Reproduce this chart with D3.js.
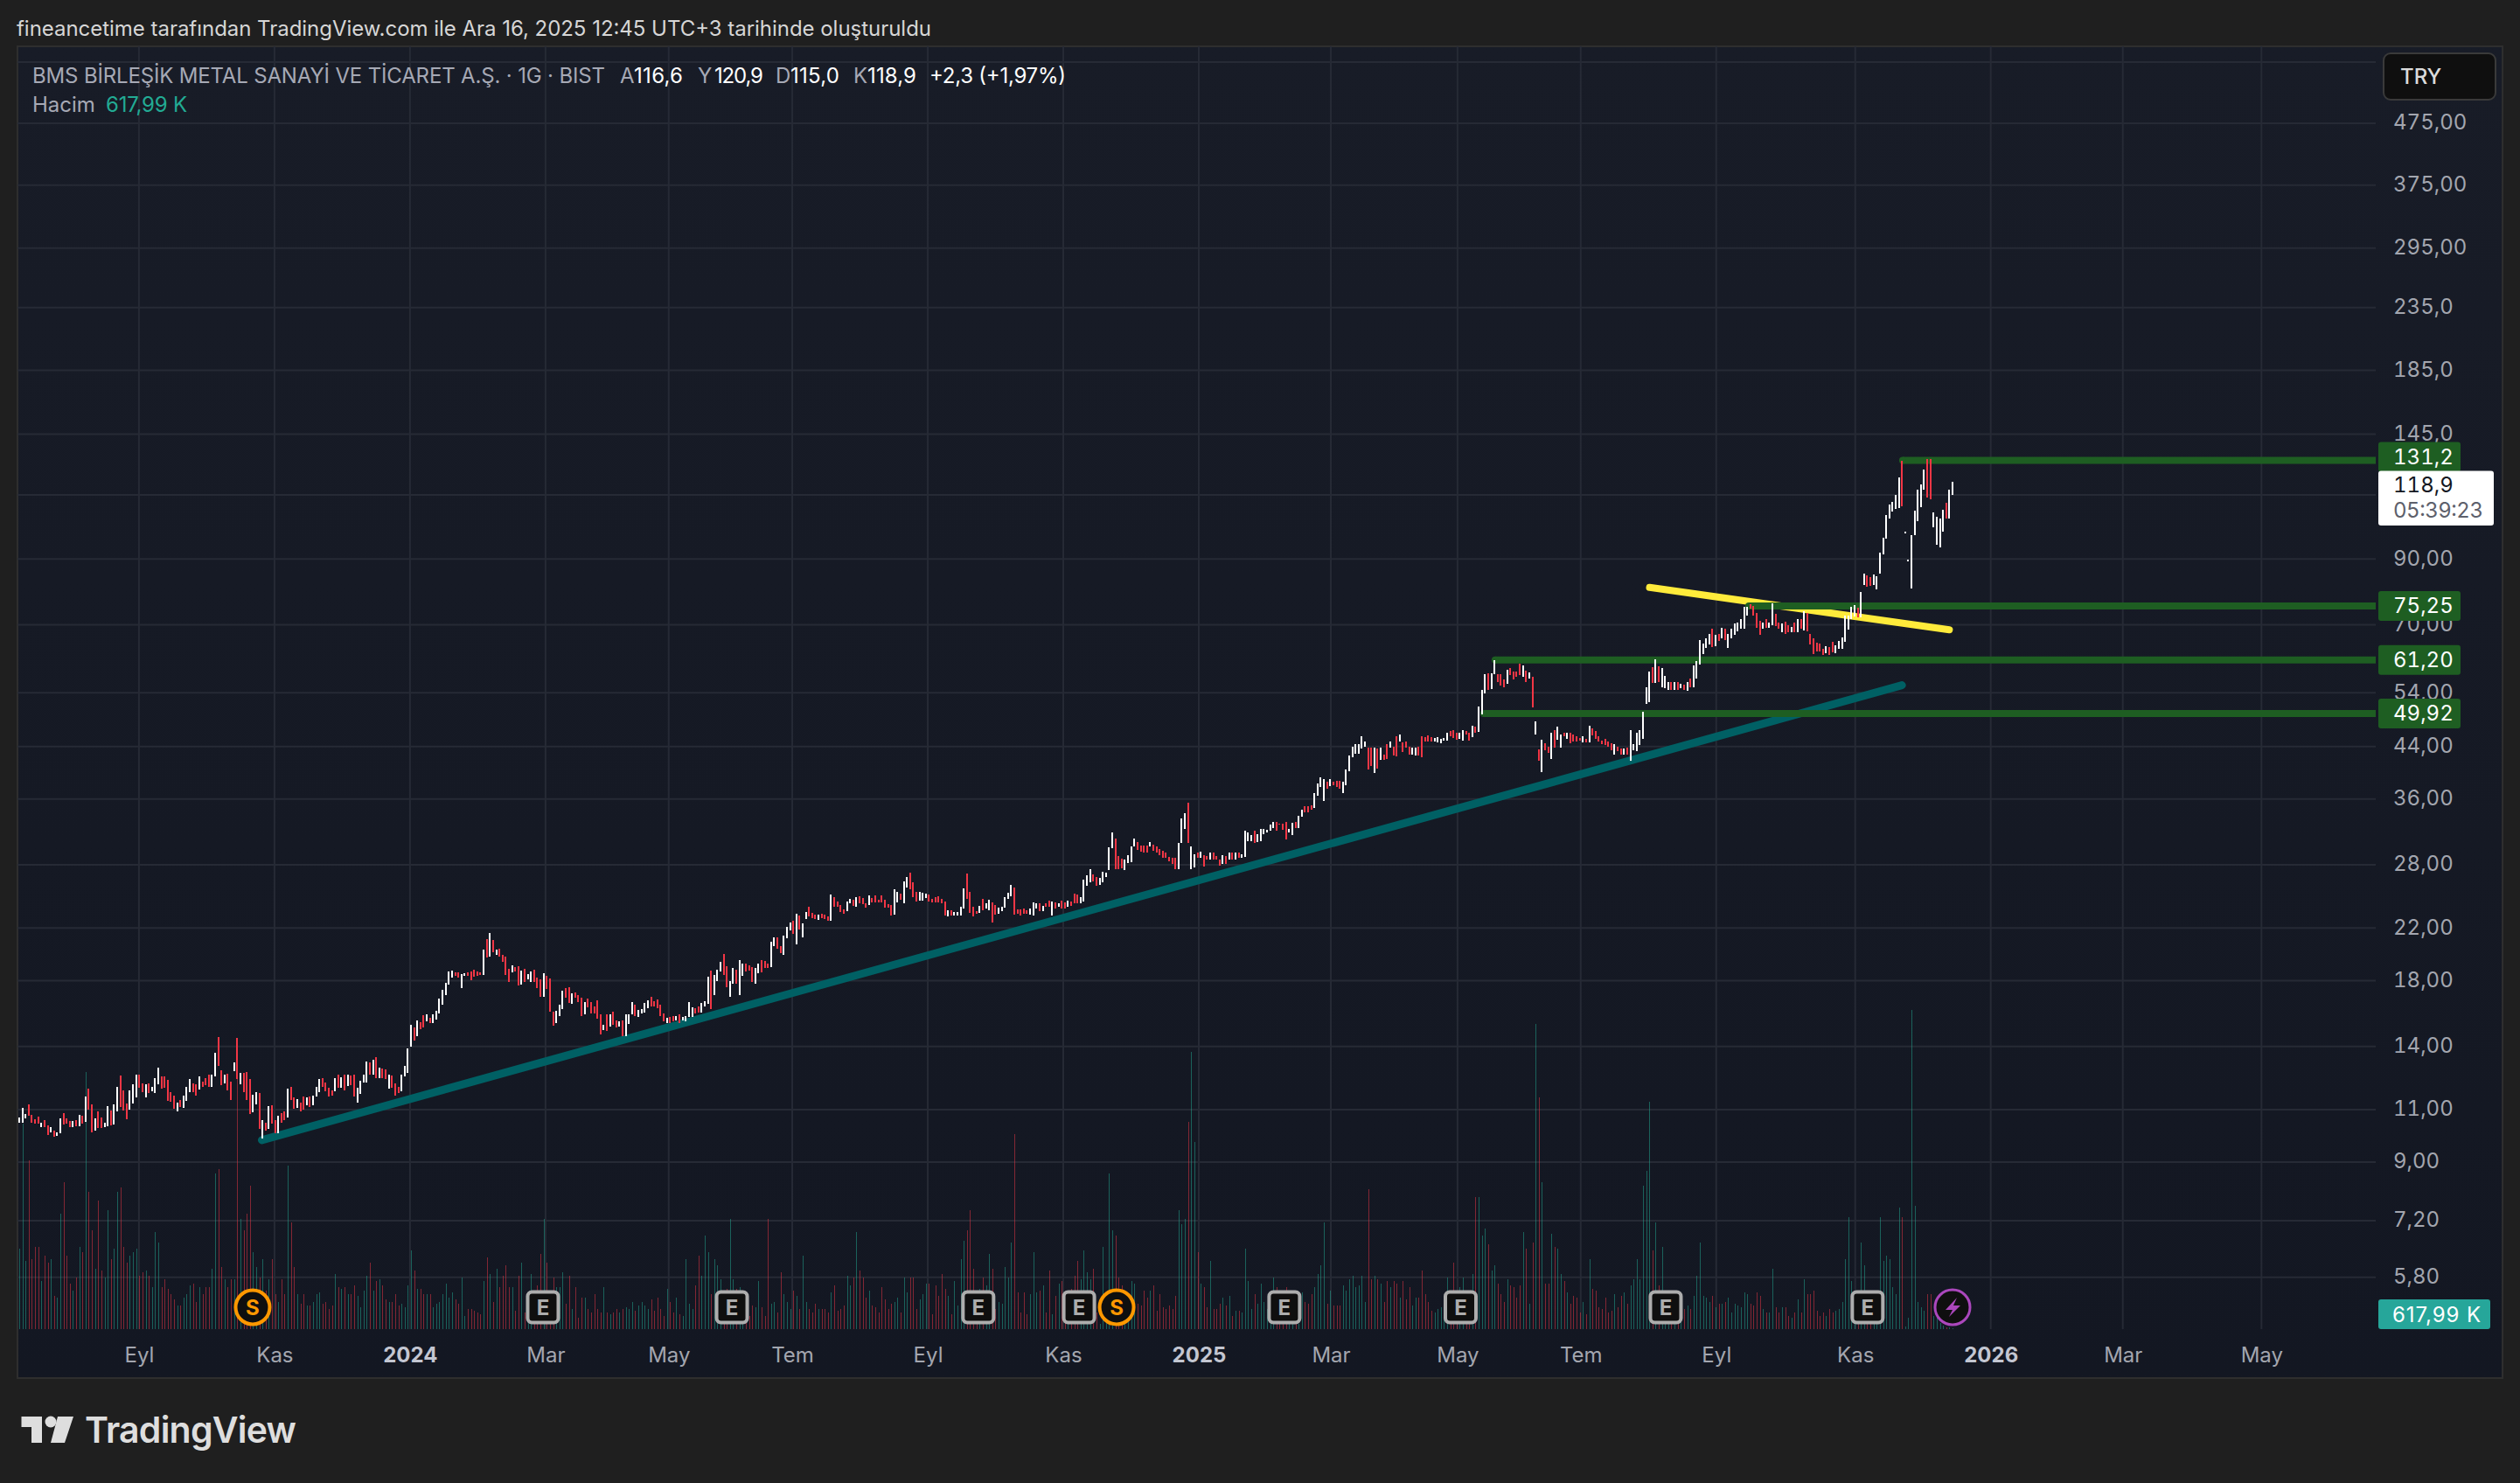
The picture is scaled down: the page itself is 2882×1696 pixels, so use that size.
<!DOCTYPE html>
<html>
<head>
<meta charset="utf-8">
<script src="https://cdn.jsdelivr.net/npm/d3@7"></script>
<style>
body { margin: 0; background: #1f1f1f; }
svg { display: block; font-family: Inter, "Noto Sans", sans-serif; }
.tnum { font-feature-settings: "tnum"; font-variant-numeric: tabular-nums; }
</style>
</head>
<body>
<div id="chart"></div>
<script>
// daily bars, oldest first (TRY)
var barHighs = [
10.69,11.07,10.80,11.21,10.77,10.60,10.71,10.47,10.57,10.37,
10.28,10.14,10.07,10.63,10.85,10.65,10.53,10.53,10.57,10.77,
10.75,11.55,11.91,11.21,10.65,10.93,10.69,10.47,11.13,10.96,
11.21,11.99,12.52,11.85,11.26,11.85,12.12,12.56,12.59,12.15,
12.12,12.15,12.01,12.39,12.90,12.50,12.49,12.31,11.75,11.59,11.30,
11.42,11.62,11.99,12.35,12.17,12.12,12.50,12.25,12.42,12.59,
12.59,13.65,14.50,12.77,12.56,12.63,12.25,13.16,14.46,12.67,
12.67,12.70,12.35,11.64,11.77,11.71,10.58,10.45,11.13,11.17,
10.57,10.73,10.85,10.93,11.91,12.01,11.51,11.46,11.30,11.55,11.54,
11.55,11.59,11.99,12.36,12.39,12.20,11.95,11.85,12.42,12.59,
12.45,12.59,12.56,12.53,12.59,11.95,12.29,12.59,13.20,13.16,
13.30,13.42,12.90,12.87,12.81,12.59,12.53,12.17,11.99,12.59,
12.98,13.91,
15.21,15.03,15.47,15.38,15.78,15.80,15.64,15.80,16.05,16.82,
17.39,17.85,18.65,18.71,18.58,18.58,18.46,18.50,18.58,18.63,
18.77,18.63,18.58,20.27,21.10,21.58,21.03,20.27,20.34,19.87,
19.74,18.84,19.09,18.96,19.02,18.71,18.84,18.46,18.65,18.77,
18.21,18.09,18.52,18.34,18.15,15.99,16.05,16.42,17.33,17.50,
17.56,17.16,17.22,17.03,16.87,16.60,16.82,16.60,16.32,16.70,
15.83,15.18,15.83,15.80,15.99,15.47,15.42,15.47,15.80,15.80,
16.60,16.44,16.10,16.15,16.53,16.70,16.93,16.65,16.76,16.42,
15.88,15.64,15.68,15.73,15.73,15.80,15.68,15.73,16.60,16.26,
16.21,16.32,16.53,16.65,18.28,18.71,18.40,18.77,19.35,19.94,
19.02,17.97,18.90,18.77,19.48,19.22,19.22,19.09,18.96,18.90,
19.22,19.48,19.41,19.22,20.89,21.24,21.24,20.54,21.38,22.11,
22.48,22.63,23.25,23.10,22.41,
23.41,23.83,23.31,23.15,23.15,23.23,23.15,23.03,24.97,24.74,
24.34,23.99,23.62,24.31,24.55,24.47,24.74,24.83,24.69,24.20,
24.91,24.69,24.91,24.47,24.91,24.47,24.10,24.04,25.47,25.25,
25.08,26.28,26.69,27.2,26.22,25.25,25.25,25.19,25.05,24.97,
24.63,24.74,24.83,24.55,24.34,23.56,23.56,23.36,23.36,23.88,
25.58,27.05,25.25,23.88,23.49,23.93,24.63,24.15,24.47,24.23,
24.02,23.75,23.88,24.74,25.14,25.96,25.72,23.62,23.62,23.67,
23.52,23.67,24.26,24.15,24.20,23.93,24.15,24.42,24.34,24.26,
24.20,24.42,24.23,24.42,24.31,25.08,25.02,24.74,26.46,
26.94,27.55,27.03,26.73,26.64,27.3,27.2,29.9,31.7,31.0,
29.0,28.7,28.6,29.1,30.0,31.0,30.5,30.18,30.18,30.18,
30.5,30.28,30.0,29.78,29.58,29.3,28.9,28.8,28.74,30.4,
33.38,34.16,35.55,30.0,29.2,29.38,29.48,29.1,29.0,29.3,
29.38,29.0,28.6,29.1,29.0,29.3,29.3,29.3,29.3,29.2,
31.85,31.65,31.33,31.85,31.43,32.16,32.16,32.05,32.7,33.04,
33.04,32.8,32.8,33.04,32.16,32.93,33.04,33.82,34.6,35.08,
35.08,35.2,36.77,38.15,39.05,38.8,38.4,38.8,38.4,38.54,
38.54,38.4,40.25,42.46,43.9,44.35,44.35,45.7,44.8,43.75,
43.75,43.75,43.6,43.75,42.6,44.35,44.8,43.9,45.7,46.04,
44.65,44.8,43.9,43.75,43.75,43.9,45.7,45.55,45.85,45.55,
45.4,45.55,45.25,
45.5,46.4,46.6,46.8,46.3,46.4,46.8,46.6,46.4,47.6,
47.4,51.2,54.6,58.0,58.2,58.2,61.2,58.0,58.0,56.8,
59.0,59.3,58.6,58.6,60.3,59.9,58.7,58.4,57.4,48.5,
43.5,45.1,44.5,44.0,46.4,46.8,47.4,46.0,46.4,46.3,
46.3,46.0,45.7,45.4,45.7,45.3,47.6,47.1,46.6,45.7,
45.0,45.3,44.8,44.5,44.4,43.9,43.6,43.6,43.8,46.9,
44.4,46.3,46.9,50.2,55.1,58.6,59.6,61.3,59.8,59.3,
57.6,56.3,56.3,56.3,56.3,55.9,55.8,56.2,57.0,59.9,
61.0,66.1,65.2,66.5,67.7,69.0,67.3,67.7,69.2,69.0,
67.5,69.0,70.4,70.6,71.5,75.0,75.0,75.8,75.3,73.3,
71.1,70.6,71.5,70.6,76.0,73.0,70.6,70.4,70.9,70.0,
69.4,70.6,71.5,71.5,73.7,73.3,67.7,66.5,65.3,65.2,
63.9,64.5,64.3,65.6,64.8,65.9,66.7,72.5,72.5,75.0,
75.5,74.7,79.4,85.1,84.6,84.0,84.9,84.3,92.3,97.6,
106.4,110.8,112.0,114.9,122.9,131.0,100.0,89.8,98.6,108.3,
117.4,119.5,126.7,131.8,131.8,107.5,105.8,105.0,108.6,111.5,
117.3,120.9];

var barLows = [
10.47,10.47,10.63,10.73,10.47,10.43,10.41,10.28,10.28,9.99,
10.07,9.92,9.94,10.05,10.39,10.41,10.28,10.30,10.32,10.32,
10.41,10.51,11.01,10.10,10.14,10.25,10.25,10.28,10.32,10.37,
10.39,10.93,11.11,10.96,10.60,10.99,11.26,11.51,11.95,11.75,
11.51,11.72,11.81,11.70,12.12,11.91,11.95,11.39,11.34,11.04,10.93,
11.11,11.07,11.36,11.77,11.77,11.59,11.88,11.99,12.08,12.01,
12.00,12.49,12.98,12.08,12.15,11.85,11.41,12.73,12.35,12.10,
11.75,11.41,10.81,10.89,11.23,10.22,9.85,10.14,10.23,10.41,
10.05,10.05,10.45,10.57,10.69,11.42,11.05,11.09,10.93,10.99,11.17,
11.11,11.17,11.55,11.75,12.01,11.81,11.55,11.59,11.81,11.95,
11.96,11.84,12.04,12.08,11.55,11.30,11.68,12.21,12.21,12.56,
12.59,12.42,12.42,12.42,12.35,11.91,11.95,11.62,11.72,11.81,
12.49,12.67,
13.98,14.33,14.54,14.93,15.03,15.42,15.31,15.31,15.49,15.88,
16.44,17.06,17.70,18.21,18.34,18.21,17.50,18.30,18.34,18.03,
18.28,18.34,18.40,18.40,19.67,19.74,20.04,19.87,19.74,19.35,
18.40,17.91,18.58,18.65,17.68,17.74,17.91,18.09,17.91,17.91,
17.50,16.93,16.93,17.44,15.99,15.16,15.31,15.73,16.15,16.87,
16.53,16.50,16.87,16.60,15.73,15.83,16.26,15.88,15.88,15.57,
14.66,14.90,14.86,15.11,15.18,15.03,15.11,14.57,14.57,15.26,
15.80,15.73,15.68,15.88,15.95,16.21,16.32,16.32,16.21,15.73,
15.42,15.31,15.31,15.42,15.47,15.31,15.47,15.42,15.68,15.68,
15.88,15.95,15.95,16.32,16.50,16.15,17.03,17.97,18.65,18.40,
17.56,16.93,17.80,17.80,17.03,18.34,18.65,18.71,17.91,17.80,
18.52,18.58,18.90,18.90,18.96,20.54,20.34,20.00,19.87,21.17,
21.82,21.53,20.68,21.89,21.24,
22.80,22.97,22.85,22.80,22.70,22.88,22.80,22.65,22.65,23.88,
23.83,23.36,23.23,23.49,24.20,23.93,23.88,24.20,24.10,23.80,
24.02,24.26,24.26,24.29,24.23,23.80,23.75,23.10,23.15,24.29,
24.47,24.20,25.67,25.47,24.74,24.36,24.42,24.42,24.69,24.34,
24.26,24.26,24.26,24.15,23.10,22.97,23.10,23.10,23.10,23.10,
23.67,24.61,23.31,22.97,23.23,23.33,23.56,23.67,23.56,22.47,
23.15,23.23,23.49,23.80,24.55,24.83,23.15,23.20,23.08,23.20,
23.20,23.15,23.08,23.67,23.46,23.49,23.88,23.88,23.08,23.67,
23.83,23.67,23.67,23.88,23.93,24.15,24.20,24.20,24.34,
25.87,26.2,26.26,25.87,25.96,26.2,26.7,27.46,29.88,27.55,
27.5,27.66,27.46,28.16,28.25,30.0,29.68,29.48,29.38,29.38,
30.0,29.58,29.38,29.1,28.8,28.74,28.42,28.1,27.5,27.5,
30.4,32.16,30.48,27.5,27.7,28.74,28.8,27.85,28.6,28.54,
28.54,28.6,27.95,28.1,28.14,28.6,28.6,28.6,28.74,28.74,
28.9,30.7,30.7,30.4,30.55,30.7,31.43,31.64,31.95,32.27,
31.95,32.63,32.05,30.9,31.64,31.33,32.27,32.27,33.6,34.23,
34.23,34.6,34.84,36.52,37.64,35.68,37.5,37.77,37.9,37.64,
37.5,36.77,37.9,40.0,42.18,42.8,42.8,43.6,43.9,40.25,
40.9,39.7,40.5,41.8,41.8,42.0,43.75,42.46,42.3,44.8,
43.03,43.75,42.6,42.6,42.46,42.46,42.2,44.8,44.8,44.8,
44.8,44.65,44.5,
45.0,45.0,45.7,45.5,45.2,45.3,45.0,46.0,45.0,45.6,
46.3,46.5,49.7,53.8,54.6,54.7,57.9,56.2,55.6,55.1,
55.9,57.8,56.9,57.5,57.8,57.5,56.2,57.0,51.1,46.0,
41.6,39.9,43.3,42.9,42.0,43.8,45.1,43.8,45.7,45.3,
44.5,44.8,44.8,45.0,44.7,44.7,44.7,45.9,45.3,44.8,
44.4,44.2,43.9,43.3,42.6,43.2,42.6,42.6,42.6,41.7,
43.3,43.2,44.2,45.3,51.7,52.1,56.0,56.0,56.2,55.1,
54.9,54.6,54.6,54.6,54.6,54.9,54.6,54.4,55.1,55.1,
57.0,60.1,62.6,64.1,64.9,64.3,64.5,65.9,66.5,66.1,
64.1,66.5,67.4,68.3,69.0,69.0,72.5,74.5,72.5,69.2,
67.4,69.0,69.2,69.2,70.0,69.6,69.0,68.1,67.6,68.1,
68.1,68.1,68.1,69.0,68.6,68.3,64.9,62.6,63.3,63.3,
62.4,62.8,62.4,63.0,62.8,63.9,63.9,65.7,68.8,71.6,
72.4,72.1,72.1,81.6,81.0,81.3,81.6,80.2,85.0,91.7,
97.3,105.0,108.0,109.1,109.4,110.0,99.3,89.2,80.5,98.6,
104.0,109.7,117.3,113.8,113.0,101.6,95.0,94.0,100.0,105.0,
105.0,115.0];

// w = close above open, r = close below open
var barDirs = [
"wwwrrrrwrr","wrwwrrrwrw","rwrrwrrwwr","wwrrrwwwrr","wrwwwrrrrrw",
"rwwwrrwrrr","wwrrwrrwrw","rrrwwrwrwr","rwrrwrrwrrw","rwwwrrrrwr",
"wrwrrwwwwr","wrwrrwrrrw","ww",
"wrwrrwrwww","wwwwrrwwrr","rrrwrwrwrr","rrwrrwrwwr","rrwrrrwwwr",
"rwrrrwrrrr","rwrwrrwrww","wrwwwwrrrr","rwrrwrwwww","rrwwwrwwwr",
"rwwrwwrrrw","wrrrwwrrww","wrwrw",
"wrrrwrrrwr","rrrwwrwrrr","wrrrrrrrww","rwwrrrwwwr","rrrrrwrwww",
"wrrrrwrwwr","rwwwwwrrrr","rwwwrwrrwr","wrrwrrrww",
"wwrrwwwwwr","rrwwwwrrrr","wrrrrrrrrw","wwrwwrwrrw","rrrwrwrwrw",
"wwwrwwwwww","rrrrwwrwwr","rrwwwwrwrr","rwwwwwwwwr","rwrwrrwrrw",
"rrrwwrrrrr","www",
"wwrrrwwrrw","rwwwrwwrrr","wrrrrwrwrw","rwrrwrwwrw","rrrrwrwrrr",
"rrrrwrrwrw","wwwwwwrwrw","wwrwrwrwrw","wwwwwrwrwr","wwwwwwwrrr",
"rwrwwrrwrr","wrwrwrrrrr","rwrrwwwwww","wrwwrrwwww","wwwwwrwwww",
"wwwrrwwwwr","ww"
].join("");

// volume in millions
var barVolumes = [
44,112,37,92,38,45,45,26,40,36,
38,18,17,63,80,40,25,21,28,45,
42,140,75,54,33,70,32,28,65,38,
44,75,77,45,36,40,42,44,29,31,
32,29,23,53,47,23,27,22,19,16,
13,13,17,19,24,25,15,23,19,23,
23,33,85,87,34,27,23,27,27,136,
60,54,63,78,42,34,28,38,21,27,
38,19,15,27,19,89,58,34,19,14,
19,13,13,15,19,20,14,15,11,13,
30,23,22,23,19,19,24,18,12,21,
29,36,21,26,27,24,16,15,15,19,
13,14,12,24,43,32,22,22,19,19,
19,12,14,15,19,25,17,20,16,14,
28,7,11,11,10,9,8,26,39,30,
15,33,23,29,35,23,23,10,29,36,
9,20,30,20,24,41,60,36,17,28,
23,23,31,14,29,11,23,6,17,17,
11,9,19,11,9,23,9,8,9,11,
9,11,12,11,15,10,13,15,13,11,
16,10,17,11,7,22,15,9,17,8,7,
38,14,11,24,40,29,51,42,19,38,
35,27,19,22,60,27,22,23,9,8,
7,13,12,26,12,7,60,14,15,9,
31,19,15,11,21,18,11,40,15,11,
9,14,11,11,11,9,20,24,10,11,
13,29,24,28,53,32,28,17,21,13,
12,9,23,16,11,14,15,17,9,28,
20,28,28,11,16,19,25,25,8,24,
18,30,22,18,8,26,13,38,48,54,
65,33,12,22,28,24,41,33,11,15,
14,34,28,47,106,20,9,20,8,19,
42,20,21,24,9,32,8,18,25,26,
7,19,22,29,37,27,43,31,27,33,
9,3,45,9,85,54,51,28,24,7,
18,26,25,14,13,21,17,21,24,10,
19,12,11,13,11,18,65,57,60,113,
151,102,42,25,23,12,37,11,11,14,
17,13,18,7,10,10,9,44,26,11,
19,14,25,15,11,14,28,23,7,9,
23,11,9,9,3,20,15,14,19,23,30,
35,58,14,21,13,13,13,24,21,27,
29,23,24,29,15,76,27,29,27,25,
15,26,23,26,25,17,26,16,23,13,
17,17,32,19,15,10,9,11,12,11,
28,17,36,9,23,28,7,11,30,72,
72,51,55,46,32,35,25,19,15,27,
24,23,17,24,53,44,14,47,166,126,
80,25,25,52,45,44,30,26,20,14,
18,17,9,15,8,38,22,21,12,11,
17,9,10,19,12,18,20,14,24,27,
38,27,78,86,124,43,58,24,45,17,
17,17,17,17,17,11,13,11,18,29,
47,18,17,15,18,12,14,14,15,17,
9,14,13,12,20,19,14,13,20,18,
11,9,9,33,12,9,12,12,7,6,
9,16,9,27,19,19,21,10,7,9,
7,11,9,10,11,15,38,61,26,13,
12,47,35,12,11,11,11,61,37,40,
38,23,19,66,61,1.4,6,174,67,15,
12,10,19,19,7,6,3.5,2,1,1,0.618];

var priceGrid = [600,475,375,295,235,185,145,115,90,70,54,44,36,28,22,18,14,11,9,7.2,5.8];
var priceTicks = [475,375,295,235,185,145,90,70,54,44,36,28,22,18,14,11,9,7.2,5.8];
var priceLabels = ["475,00","375,00","295,00","235,0","185,0","145,0","90,00","70,00","54,00","44,00","36,00","28,00","22,00","18,00","14,00","11,00","9,00","7,20","5,80"];

var monthIdx = [37.9,80.8,123.7,166.6,205.6,244.7,287.6,330.5,373.4,415.2,455.3,494.3,537.2,581.2,624.1,665.9,709.8];
var monthLabels = ["Eyl","Kas","2024","Mar","May","Tem","Eyl","Kas","2025","Mar","May","Tem","Eyl","Kas","2026","Mar","May"];

var levelPrices = [131.2,75.25,61.20,49.92];
var levelLabels = ["131,2","75,25","61,20","49,92"];
var levelStarts = [596.2,547.5,467.2,463.6];
var levelBadgeShift = [-4,0,0,0];

var tealLine = [[76.8,9.79],[596,55.6]];
var yellowLine = [[516.1,80.75],[611,68.7]];

var splitIdx = [73.9,347.4];
var earningsIdx = [165.8,225.6,303.6,335.5,400.5,456.3,521.2,585.1];
var boltIdx = [612];

var WIDTH = 2882, HEIGHT = 1696;
var PANE_LEFT = 20, PANE_TOP = 53, PANE_RIGHT = 2862, PANE_BOTTOM = 1576;
var PLOT_RIGHT = 2717, VOL_BOTTOM = 1520;
var ICON_Y = 1495;
var COL_UP = "#ffffff", COL_DOWN = "#f23645", COL_VOL_UP = "#22ab94", COL_LEVEL = "#1e5e22";

var x = d3.scaleLinear().domain([0,612]).range([22,2233]);
var y = d3.scaleLog().domain([5.8,475]).range([1460.7,141]);
var v = d3.scaleLinear().domain([0,100]).range([VOL_BOTTOM,VOL_BOTTOM-210]);
var planEnd = x.invert(PLOT_RIGHT);

var svg = d3.select("#chart").append("svg").attr("width",WIDTH).attr("height",HEIGHT);

var grad = svg.append("defs").append("linearGradient").attr("id","paneBg").attr("x1",0).attr("x2",0).attr("y1",0).attr("y2",1);
grad.append("stop").attr("offset",0).attr("stop-color","#181c27");
grad.append("stop").attr("offset",1).attr("stop-color","#131722");

svg.append("rect").attr("width",WIDTH).attr("height",HEIGHT).attr("fill","#1f1f1f");
svg.append("rect").attr("x",PANE_LEFT).attr("y",PANE_TOP)
    .attr("width",PANE_RIGHT-PANE_LEFT).attr("height",PANE_BOTTOM-PANE_TOP)
    .attr("fill","url(#paneBg)").attr("stroke","#2e2e2e").attr("stroke-width",2);

// grid
svg.append("g").selectAll("line").data(priceGrid).join("line")
    .attr("x1",PANE_LEFT).attr("x2",PLOT_RIGHT)
    .attr("y1",function(d){return y(d);}).attr("y2",function(d){return y(d);})
    .attr("stroke","#262a35").attr("stroke-width",2);
svg.append("g").selectAll("line").data(monthIdx).join("line")
    .attr("x1",function(d){return x(d);}).attr("x2",function(d){return x(d);})
    .attr("y1",PANE_TOP).attr("y2",VOL_BOTTOM)
    .attr("stroke","#262a35").attr("stroke-width",2);

// volume
svg.append("g").attr("shape-rendering","crispEdges").selectAll("rect").data(barVolumes).join("rect")
    .attr("x",function(d,i){return Math.round(x(i));})
    .attr("width",1)
    .attr("y",function(d){return v(d);})
    .attr("height",function(d){return VOL_BOTTOM-v(d);})
    .attr("fill",function(d,i){return barDirs[i]=="r" ? COL_DOWN : COL_VOL_UP;})
    .attr("opacity",0.5);

// drawn lines
var lineGen = d3.line().x(function(d){return x(d[0]);}).y(function(d){return y(d[1]);});
svg.append("path").attr("d",lineGen(tealLine)).attr("stroke","#006064").attr("stroke-width",9)
    .attr("stroke-linecap","round").attr("fill","none");
svg.append("path").attr("d",lineGen(yellowLine)).attr("stroke","#ffeb3b").attr("stroke-width",8)
    .attr("stroke-linecap","round").attr("fill","none");
levelPrices.forEach(function(p,i){
    svg.append("path").attr("d",lineGen([[levelStarts[i],p],[planEnd,p]]))
        .attr("stroke",COL_LEVEL).attr("stroke-width",8).attr("fill","none");
    svg.append("circle").attr("cx",x(levelStarts[i])).attr("cy",y(p)).attr("r",4).attr("fill",COL_LEVEL);
});

// candles
svg.append("g").attr("shape-rendering","crispEdges").selectAll("rect").data(barHighs).join("rect")
    .attr("x",function(d,i){return Math.round(x(i))-1;})
    .attr("width",2)
    .attr("y",function(d){return y(d);})
    .attr("height",function(d,i){return y(barLows[i])-y(d);})
    .attr("fill",function(d,i){return barDirs[i]=="r" ? COL_DOWN : COL_UP;});

// axes
var yAxis = d3.axisRight(y).tickValues(priceTicks).tickSize(0).tickPadding(0)
    .tickFormat(function(d){return priceLabels[priceTicks.indexOf(d)];});
var yg = svg.append("g").attr("transform","translate(2737,-1)").attr("class","tnum").call(yAxis);
yg.select(".domain").remove();
yg.selectAll("text").attr("fill","#a3a6af").attr("font-size",24).attr("font-family","Inter");

var xAxis = d3.axisBottom(x).tickValues(monthIdx).tickSize(0).tickPadding(0)
    .tickFormat(function(d,i){return monthLabels[i];});
var xg = svg.append("g").attr("transform","translate(0,1541)").call(xAxis);
xg.select(".domain").remove();
xg.selectAll("text").attr("font-size",24).attr("font-family","Inter")
    .attr("font-weight",function(d,i){return /^\d/.test(monthLabels[i]) ? 700 : 400;})
    .attr("fill",function(d,i){return /^\d/.test(monthLabels[i]) ? "#c3c6d1" : "#a3a6af";});

// level badges
levelPrices.forEach(function(p,i){
    var cy = y(p)+levelBadgeShift[i];
    svg.append("rect").attr("x",2720).attr("y",cy-17).attr("width",94).attr("height",34).attr("rx",3).attr("fill",COL_LEVEL);
    svg.append("text").attr("class","tnum").attr("x",2737).attr("y",cy+8.5).attr("fill","#ffffff").attr("font-size",24).text(levelLabels[i]);
});

// last price badge
svg.append("rect").attr("x",2720).attr("y",538.5).attr("width",132).attr("height",62.5).attr("rx",3).attr("fill","#ffffff");
svg.append("text").attr("class","tnum").attr("x",2737).attr("y",562.5).attr("fill","#131722").attr("font-size",24).text("118,9");
svg.append("text").attr("class","tnum").attr("x",2737).attr("y",591.5).attr("fill","#5d606b").attr("font-size",24).attr("textLength",103).text("05:39:23");

// volume badge
svg.append("rect").attr("x",2720).attr("y",1486).attr("width",128).attr("height",34).attr("rx",3).attr("fill","#26a69a");
svg.append("text").attr("x",2736).attr("y",1511.5).attr("fill","#ffffff").attr("font-size",24).attr("textLength",101).text("617,99 K");

// TRY button
svg.append("rect").attr("x",2726).attr("y",61).attr("width",128).attr("height",53).attr("rx",8)
    .attr("fill","#0f0f0f").attr("stroke","#3a3a3a").attr("stroke-width",2);
svg.append("text").attr("x",2745).attr("y",96).attr("fill","#dbdbdb").attr("font-size",24).attr("font-weight",500).text("TRY");

// event icons
splitIdx.forEach(function(d){
    svg.append("ellipse").attr("cx",x(d)).attr("cy",ICON_Y).attr("rx",19.5).attr("ry",19.5)
        .attr("fill","#0f0f0f").attr("stroke","#ff9800").attr("stroke-width",4);
    svg.append("text").attr("x",x(d)).attr("y",ICON_Y+9).attr("text-anchor","middle")
        .attr("fill","#ff9800").attr("font-size",24).attr("font-weight",700).text("S");
});
earningsIdx.forEach(function(d){
    svg.append("rect").attr("x",x(d)-17.5).attr("y",ICON_Y-17.5).attr("width",35).attr("height",35).attr("rx",5)
        .attr("fill","#0f0f0f").attr("stroke","#adadad").attr("stroke-width",4);
    svg.append("text").attr("x",x(d)).attr("y",ICON_Y+9).attr("text-anchor","middle")
        .attr("fill","#adadad").attr("font-size",24).attr("font-weight",700).text("E");
});
boltIdx.forEach(function(d){
    var g = svg.append("g").attr("transform","translate("+x(d)+","+ICON_Y+")");
    g.append("circle").attr("r",20).attr("fill","#0f0f0f").attr("stroke","#ab47bc").attr("stroke-width",3);
    g.append("path").attr("d","M5,-11 L-8,3 L0,3 L-4,11 L9,-2 L1,-2 Z").attr("fill","#ab47bc");
});

// texts on top
svg.append("text").attr("x",19).attr("y",41).attr("fill","#d6d6d6").attr("font-size",24).attr("textLength",1046)
    .text("fineancetime tarafından TradingView.com ile Ara 16, 2025 12:45 UTC+3 tarihinde oluşturuldu");
var LEGEND_GREY = "#a6a9b5";
svg.append("text").attr("x",37).attr("y",95).attr("fill",LEGEND_GREY).attr("font-size",24).attr("textLength",655)
    .text("BMS BİRLEŞİK METAL SANAYİ VE TİCARET A.Ş. · 1G · BIST");
[["A",709,"116,6",725],["Y",798,"120,9",817],["D",887,"115,0",904],["K",976,"118,9",992]].forEach(function(o){
    svg.append("text").attr("x",o[1]).attr("y",95).attr("fill",LEGEND_GREY).attr("font-size",24).text(o[0]);
    svg.append("text").attr("x",o[3]).attr("y",95).attr("fill","#ffffff").attr("font-size",24).attr("textLength",56).text(o[2]);
});
svg.append("text").attr("x",1063).attr("y",95).attr("fill","#ffffff").attr("font-size",24).attr("textLength",156).text("+2,3 (+1,97%)");
svg.append("text").attr("x",37).attr("y",128).attr("fill",LEGEND_GREY).attr("font-size",24).text("Hacim");
svg.append("text").attr("x",121).attr("y",128).attr("fill","#22ab94").attr("font-size",24).attr("textLength",93).text("617,99 K");

// logo
var logo = svg.append("g").attr("fill","#dedede");
logo.append("path").attr("d","M24.5,1620 H48 V1650 H36 V1632 H24.5 Z");
logo.append("circle").attr("cx",58).attr("cy",1626).attr("r",6.5);
logo.append("path").attr("d","M66,1620 H84 L74,1650 H58 Z");
logo.append("text").attr("x",97).attr("y",1650).attr("font-size",41).attr("font-weight",600).attr("textLength",242).text("TradingView");
</script>
</body>
</html>
